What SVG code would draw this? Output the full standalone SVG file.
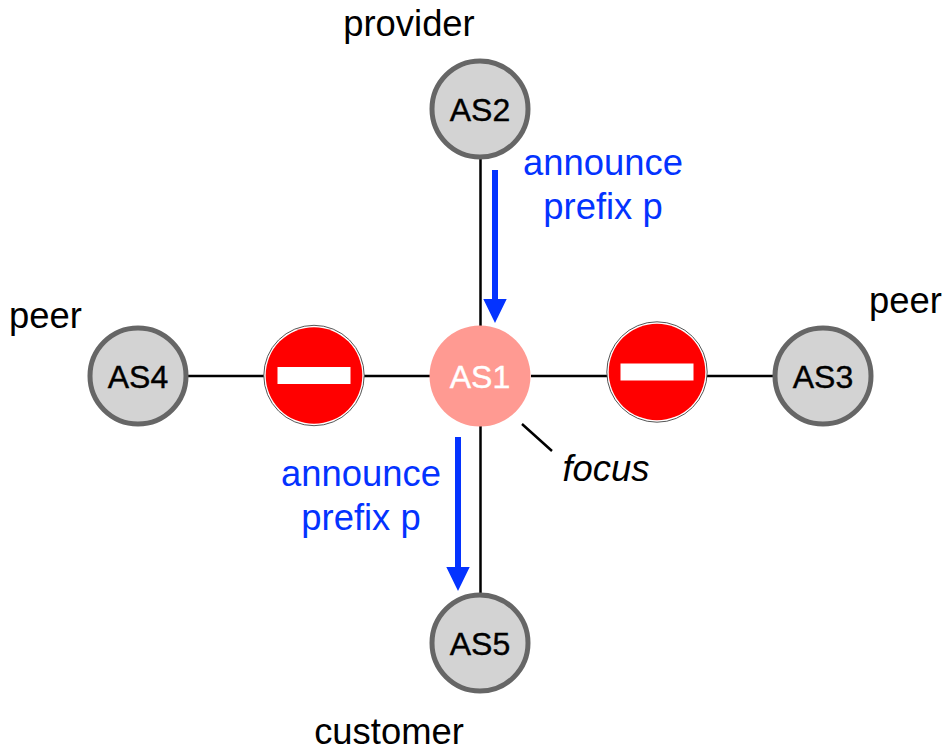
<svg xmlns="http://www.w3.org/2000/svg" width="950" height="754" viewBox="0 0 950 754">
<style>
text{font-family:"Liberation Sans",Arial,sans-serif;font-size:36.4px;text-anchor:middle;fill:#000}
.as{fill:#d3d3d3;stroke:#666;stroke-width:5}
.n{font-size:32px;stroke:#000;stroke-width:.4}
.w{fill:#fff;stroke:#fff}
.b{fill:#0433ff}
.l{stroke:#000;stroke-width:2.5;fill:none}
.a{stroke:#0433ff;stroke-width:6;fill:none}
</style>
<defs>
<g id="stop"><circle r="50.200" fill="#fff" stroke="#555" stroke-width="1"/><circle r="48.300" fill="#f00"/><rect x="-36.500" y="-8.500" width="73" height="17" fill="#fff"/></g>
</defs>
<rect width="950" height="754" fill="#fff"/>
<g id="connectors">
<path class="l" d="M480.500 156V327M480.500 425V594M188 376H431M531 376H775M522 424L552 451"/>
<path class="a" d="M495 170V299M458 437V567"/>
<path class="b" d="M483.300 299H506.700L495 323ZM446.300 567H469.700L458 591Z"/>
</g>
<g id="block-left"><use href="#stop" x="314" y="375.500"/></g>
<g id="block-right"><use href="#stop" x="657" y="372"/></g>
<g id="as1"><circle cx="480" cy="376" r="50.500" fill="#ff9a92"/><text class="n w" x="480" y="387.500">AS1</text></g>
<g id="as2"><circle class="as" cx="480" cy="109" r="48"/><text class="n" x="480" y="120.500">AS2</text></g>
<g id="as3"><circle class="as" cx="823" cy="376" r="48"/><text class="n" x="823" y="387.500">AS3</text></g>
<g id="as4"><circle class="as" cx="138" cy="376" r="48"/><text class="n" x="138" y="387.500">AS4</text></g>
<g id="as5"><circle class="as" cx="480" cy="643" r="48"/><text class="n" x="480" y="654.500">AS5</text></g>
<g id="labels">
<text x="409" y="36">provider</text>
<text x="45.500" y="328">peer</text>
<text x="905.500" y="313">peer</text>
<text x="389" y="744">customer</text>
<text x="606" y="481" font-style="italic">focus</text>
<text class="b" x="603" y="175">announce</text>
<text class="b" x="603" y="219">prefix p</text>
<text class="b" x="361" y="486">announce</text>
<text class="b" x="361" y="530">prefix p</text>
</g>
</svg>
